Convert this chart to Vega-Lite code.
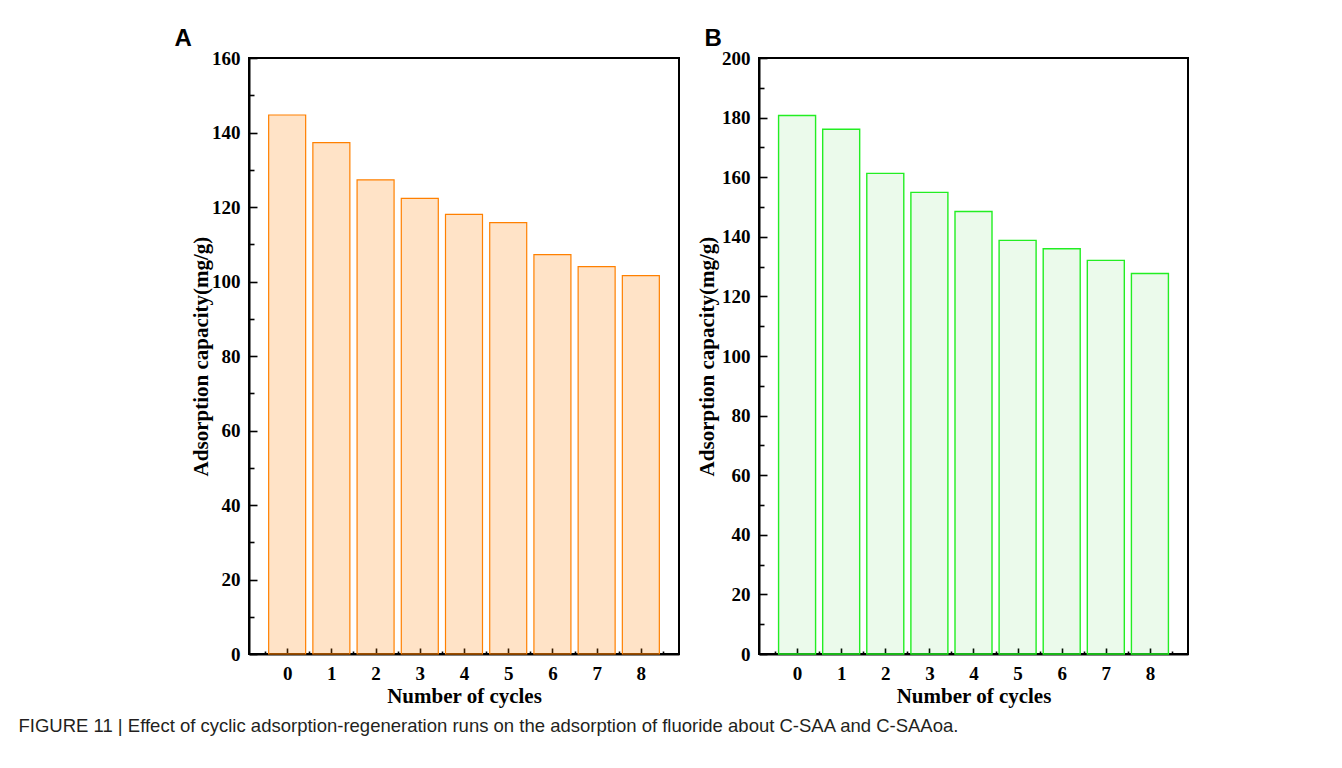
{
  "$schema": "https://vega.github.io/schema/vega-lite/v6.json",
  "background": "white",
  "padding": {"left": 18, "top": 26, "right": 5, "bottom": 5},
  "datasets": {
    "saa": [
      {"cycle": 0, "capacity": 144.7},
      {"cycle": 1, "capacity": 137.3},
      {"cycle": 2, "capacity": 127.3},
      {"cycle": 3, "capacity": 122.3},
      {"cycle": 4, "capacity": 118.0},
      {"cycle": 5, "capacity": 115.8},
      {"cycle": 6, "capacity": 107.2},
      {"cycle": 7, "capacity": 104.0},
      {"cycle": 8, "capacity": 101.6}
    ],
    "saaoa": [
      {"cycle": 0, "capacity": 180.7},
      {"cycle": 1, "capacity": 176.1},
      {"cycle": 2, "capacity": 161.3},
      {"cycle": 3, "capacity": 154.9},
      {"cycle": 4, "capacity": 148.5},
      {"cycle": 5, "capacity": 138.8},
      {"cycle": 6, "capacity": 136.0},
      {"cycle": 7, "capacity": 132.1},
      {"cycle": 8, "capacity": 127.7}
    ]
  },
  "title": {
    "text": "FIGURE 11 | Effect of cyclic adsorption-regeneration runs on the adsorption of fluoride about C-SAA and C-SAAoa.",
    "orient": "bottom",
    "anchor": "start",
    "frame": "bounds",
    "font": "Liberation Sans",
    "fontSize": 18.5,
    "fontWeight": "normal",
    "color": "#231f20",
    "dx": -155,
    "offset": 10
  },
  "spacing": 15,
  "hconcat": [
    {
      "width": 430,
      "height": 596,
      "title": {"text": "A", "anchor": "start", "frame": "bounds", "dx": -16, "offset": -2},
      "data": {"name": "saa"},
      "layer": [
        {
          "mark": {"type": "bar", "width": 37, "fill": "#ff8000", "fillOpacity": 0.22, "stroke": "#ff8000", "strokeWidth": 1.2},
          "encoding": {
            "x": {
              "field": "cycle", "type": "quantitative",
              "scale": {"domain": [-0.75, 8.75], "nice": false, "zero": false},
              "axis": {"orient": "bottom", "values": [0, 1, 2, 3, 4, 5, 6, 7, 8], "format": "d", "title": "Number of cycles", "tickSize": -6, "labelPadding": 16, "titlePadding": 2}
            },
            "y": {
              "field": "capacity", "type": "quantitative",
              "scale": {"domain": [0, 160], "nice": false},
              "axis": {"orient": "left", "values": [0, 20, 40, 60, 80, 100, 120, 140, 160], "title": "Adsorption capacity(mg/g)", "tickSize": -8, "labelPadding": 17, "titlePadding": 0}
            }
          }
        },
        {
          "mark": {"type": "bar", "width": 37, "opacity": 0},
          "encoding": {
            "x": {
              "field": "cycle", "type": "quantitative",
              "axis": {"orient": "bottom", "values": [-0.5, 0.5, 1.5, 2.5, 3.5, 4.5, 5.5, 6.5, 7.5, 8.5], "labels": false, "domain": false, "title": null, "tickSize": -3}
            },
            "y": {
              "field": "capacity", "type": "quantitative",
              "axis": {"orient": "left", "values": [10, 30, 50, 70, 90, 110, 130, 150], "labels": false, "domain": false, "title": null, "tickSize": -5}
            }
          }
        }
      ],
      "resolve": {"axis": {"x": "independent", "y": "independent"}}
    },
    {
      "width": 429,
      "height": 596,
      "title": {"text": "B", "anchor": "start", "frame": "bounds", "dx": 8, "offset": -2},
      "data": {"name": "saaoa"},
      "layer": [
        {
          "mark": {"type": "bar", "width": 37, "fill": "#1fc81f", "fillOpacity": 0.09, "stroke": "#22ee22", "strokeWidth": 1.4},
          "encoding": {
            "x": {
              "field": "cycle", "type": "quantitative",
              "scale": {"domain": [-0.75, 8.75], "nice": false, "zero": false},
              "axis": {"orient": "bottom", "values": [0, 1, 2, 3, 4, 5, 6, 7, 8], "format": "d", "title": "Number of cycles", "tickSize": -6, "labelPadding": 16, "titlePadding": 2}
            },
            "y": {
              "field": "capacity", "type": "quantitative",
              "scale": {"domain": [0, 200], "nice": false},
              "axis": {"orient": "left", "values": [0, 20, 40, 60, 80, 100, 120, 140, 160, 180, 200], "title": "Adsorption capacity(mg/g)", "tickSize": -8, "labelPadding": 17, "titlePadding": 4}
            }
          }
        },
        {
          "mark": {"type": "bar", "width": 37, "opacity": 0},
          "encoding": {
            "x": {
              "field": "cycle", "type": "quantitative",
              "axis": {"orient": "bottom", "values": [-0.5, 0.5, 1.5, 2.5, 3.5, 4.5, 5.5, 6.5, 7.5, 8.5], "labels": false, "domain": false, "title": null, "tickSize": -3}
            },
            "y": {
              "field": "capacity", "type": "quantitative",
              "axis": {"orient": "left", "values": [10, 30, 50, 70, 90, 110, 130, 150, 170, 190], "labels": false, "domain": false, "title": null, "tickSize": -5}
            }
          }
        }
      ],
      "resolve": {"axis": {"x": "independent", "y": "independent"}}
    }
  ],
  "config": {
    "view": {"stroke": "black", "strokeWidth": 2},
    "title": {"font": "Liberation Sans", "fontSize": 24, "fontWeight": "bold", "color": "black"},
    "axis": {
      "grid": false,
      "domainColor": "black",
      "domainWidth": 2,
      "tickColor": "black",
      "tickWidth": 1.6,
      "labelFont": "Liberation Serif",
      "labelFontSize": 19,
      "labelFontWeight": "bold",
      "labelColor": "black",
      "titleFont": "Liberation Serif",
      "titleFontSize": 21,
      "titleFontWeight": "bold",
      "titleColor": "black"
    }
  }
}
